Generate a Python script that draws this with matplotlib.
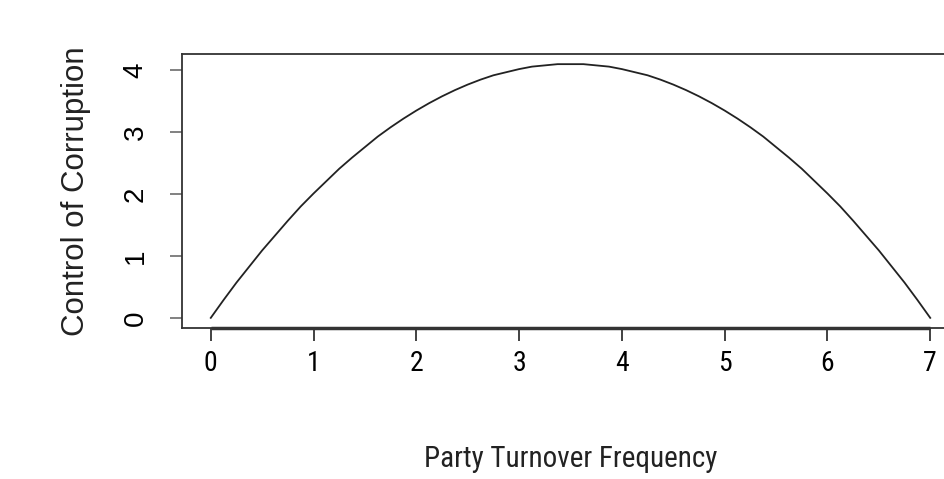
import matplotlib
matplotlib.use("Agg")
import matplotlib.pyplot as plt

# values, every 0.125 on the x axis
turnover = [0, 0.125, 0.25, 0.375, 0.5, 0.625, 0.75, 0.875, 1, 1.125, 1.25, 1.375, 1.5, 1.625,
            1.75, 1.875, 2, 2.125, 2.25, 2.375, 2.5, 2.625, 2.75, 2.875, 3, 3.125, 3.25, 3.375,
            3.5, 3.625, 3.75, 3.875, 4, 4.125, 4.25, 4.375, 4.5, 4.625, 4.75, 4.875, 5, 5.125,
            5.25, 5.375, 5.5, 5.625, 5.75, 5.875, 6, 6.125, 6.25, 6.375, 6.5, 6.625, 6.75, 6.875, 7]
corruption = [0, 0.29, 0.57, 0.83, 1.09, 1.33, 1.57, 1.80, 2.01, 2.21, 2.41, 2.59, 2.76, 2.93,
              3.08, 3.22, 3.35, 3.47, 3.58, 3.68, 3.77, 3.85, 3.92, 3.97, 4.02, 4.06, 4.08, 4.10,
              4.10, 4.10, 4.08, 4.06, 4.02, 3.97, 3.92, 3.85, 3.77, 3.68, 3.58, 3.47, 3.35, 3.22,
              3.08, 2.93, 2.76, 2.59, 2.41, 2.21, 2.01, 1.80, 1.57, 1.33, 1.09, 0.83, 0.57, 0.29, 0]
x_ticks = [0, 1, 2, 3, 4, 5, 6, 7]
y_ticks = [0, 1, 2, 3, 4]

narrow = ["Roboto Condensed", "Liberation Sans", "DejaVu Sans"]

fig = plt.figure(figsize=(9.44, 4.79), dpi=100)
ax = fig.add_axes([182 / 944, 1 - 328 / 479, (959 - 182) / 944, (328 - 54) / 479])

ax.plot(turnover, corruption, color="#222222", lw=1.3)

# R style 4% padding
xr = max(turnover) - min(turnover)
yr = max(corruption) - min(corruption)
ax.set_xlim(min(turnover) - 0.04 * xr, max(turnover) + 0.04 * xr)
ylo = min(corruption) - 0.04 * yr
ax.set_ylim(ylo, max(corruption) + 0.04 * yr)

for s in ax.spines.values():
    s.set_linewidth(1.3)
    s.set_color("#333333")

# axis line between the first and last tick, like R's axis()
ax.plot([x_ticks[0], x_ticks[-1]], [ylo, ylo], color="#333333", lw=2.5,
        clip_on=False, solid_capstyle="butt")

ax.set_xticks(x_ticks)
ax.set_yticks(y_ticks)
ax.set_xticklabels([str(t) for t in x_ticks], family=narrow, fontsize=20)
ax.set_yticklabels([str(t) for t in y_ticks], family="Liberation Sans", fontsize=20,
                   rotation=90, va="center")
ax.tick_params(axis="x", length=9, width=1.3, color="#333333", pad=7)
ax.tick_params(axis="y", length=9, width=1.3, color="#777777", pad=15)

ax.set_xlabel("Party Turnover Frequency", family=narrow, fontsize=21, labelpad=49,
              color="#222222")
ax.set_ylabel("Control of Corruption", family="Liberation Sans", fontsize=22.5,
              labelpad=23, color="#222222")

fig.savefig("out.png", dpi=100)
